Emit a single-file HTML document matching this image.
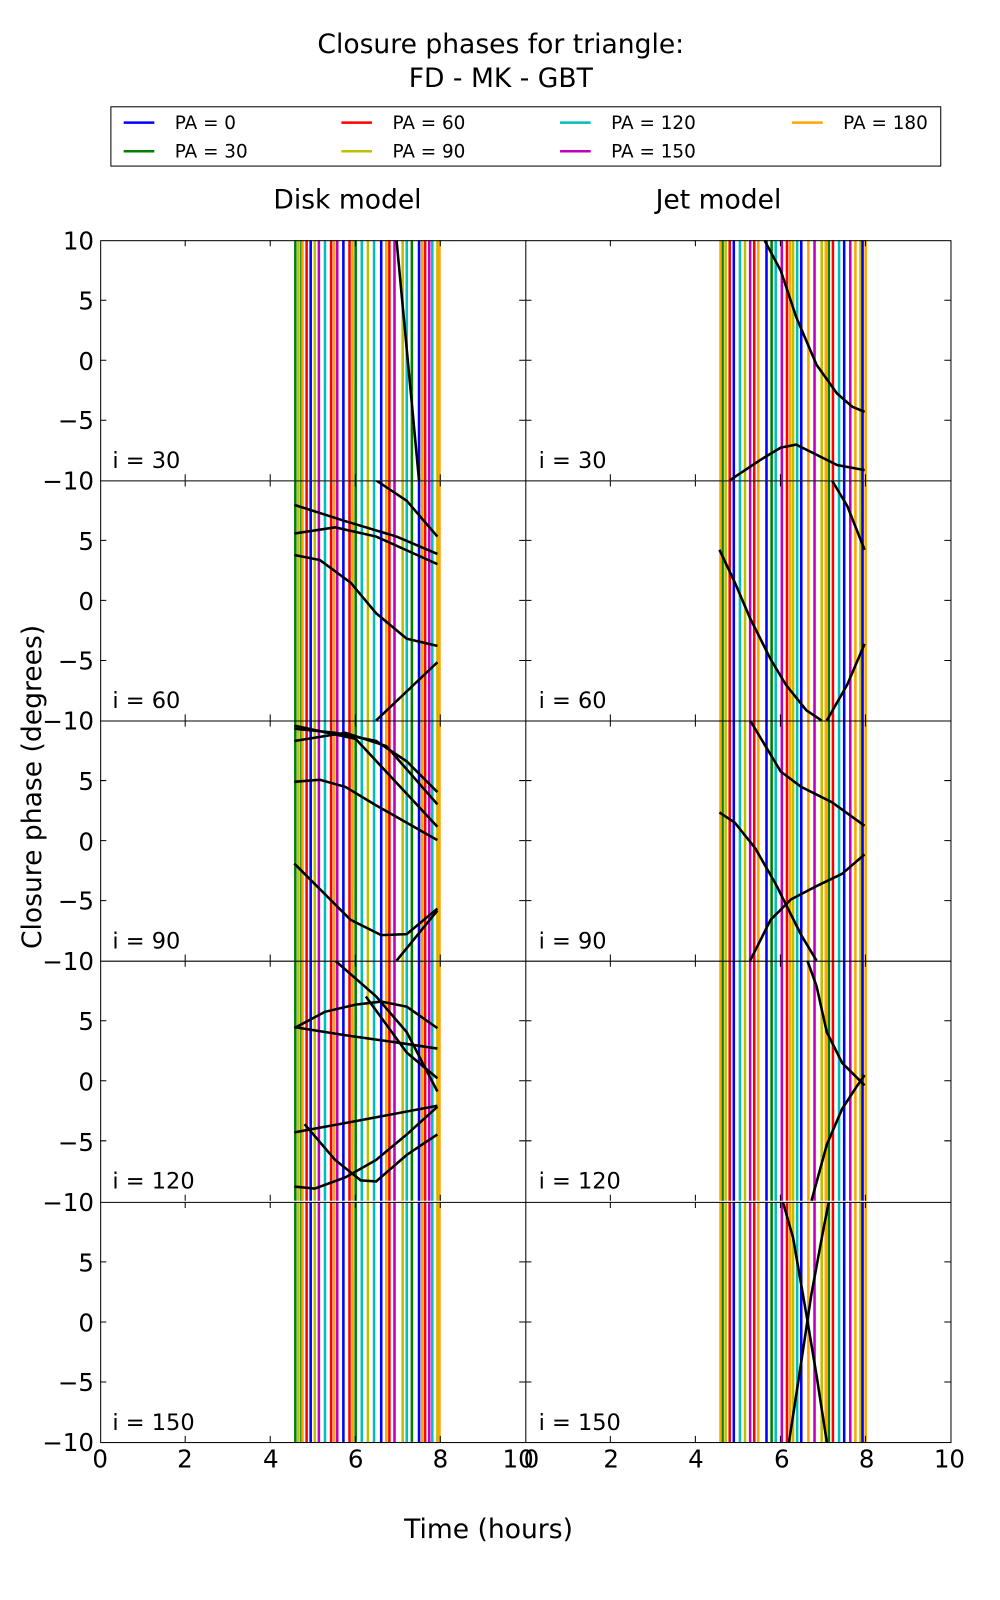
<!DOCTYPE html>
<html><head><meta charset="utf-8"><style>
html,body{margin:0;padding:0;background:#fff;}
svg{display:block;font-family:"DejaVu Sans","Liberation Sans",sans-serif;}
</style></head><body>
<svg width="1000" height="1600" viewBox="0 0 1000 1600" xmlns="http://www.w3.org/2000/svg">
<rect width="1000" height="1600" fill="#fff"/>
<defs>
<clipPath id="cl"><rect x="0" y="0" width="416" height="235"/></clipPath>
<g id="vl" stroke-width="2.5" fill="none">
<path stroke="#008000" d="M191 0v235M197 0v235M250 0v235M305 0v235"/>
<path stroke="#bfbf00" d="M194 0v235M210 0v235M262 0v235M296 0v235M330 0v235"/>
<path stroke="#ff0000" d="M202 0v235M226 0v235M244 0v235M283 0v235M318 0v235"/>
<path stroke="#0000ff" d="M206 0v235M238 0v235M275 0v235M312 0v235"/>
<path stroke="#00bfbf" d="M220 0v235M256 0v235M268 0v235M300 0v235M325 0v235"/>
<path stroke="#bf00bf" d="M214 0v235M232 0v235M288 0v235M322 0v235"/>
<path stroke="#ffa500" d="M198 0v235M229 0v235M247 0v235M280 0v235M315 0v235M332 0v235"/>
</g>
<g id="vr" stroke-width="2.5" fill="none">
<path stroke="#008000" d="M193 0v235M241 0v235M297 0v235"/>
<path stroke="#bfbf00" d="M196 0v235M215 0v235M262 0v235M290 0v235M328 0v235"/>
<path stroke="#ff0000" d="M200 0v235M224 0v235M256 0v235M301 0v235"/>
<path stroke="#0000ff" d="M204 0v235M236 0v235M270 0v235M312 0v235M330 0v235"/>
<path stroke="#00bfbf" d="M210 0v235M245 0v235M266 0v235M307 0v235"/>
<path stroke="#bf00bf" d="M220 0v235M251 0v235M283 0v235M318 0v235"/>
<path stroke="#ffa500" d="M191 0v235M228 0v235M259 0v235M277 0v235M294 0v235M323 0v235M333 0v235"/>
</g>
<g id="ax" fill="none" stroke="#000" stroke-width="1">
<path d="M83.2 235v-6M166.4 235v-6M249.6 235v-6M332.8 235v-6M83.2 0v6M166.4 0v6M249.6 0v6M332.8 0v6M0 58.75h6M0 117.5h6M0 176.25h6M416 58.75h-6M416 117.5h-6M416 176.25h-6"/>
</g>
</defs>
<g transform="scale(1.022)">
<text x="490" y="52" font-size="26" text-anchor="middle">Closure phases for triangle:</text>
<text x="490" y="85" font-size="26" text-anchor="middle">FD - MK - GBT</text>
<rect x="108.5" y="104.5" width="812" height="58" fill="#fff" stroke="#000" stroke-width="1"/>
<g font-size="18" stroke-width="2.5">
<line x1="121" y1="120" x2="151" y2="120" stroke="#0000ff"/><text x="171" y="126">PA = 0</text>
<line x1="121" y1="148" x2="151" y2="148" stroke="#008000"/><text x="171" y="154">PA = 30</text>
<line x1="334" y1="120" x2="364" y2="120" stroke="#ff0000"/><text x="384" y="126">PA = 60</text>
<line x1="334" y1="148" x2="364" y2="148" stroke="#bfbf00"/><text x="384" y="154">PA = 90</text>
<line x1="548" y1="120" x2="578" y2="120" stroke="#00bfbf"/><text x="598" y="126">PA = 120</text>
<line x1="548" y1="148" x2="578" y2="148" stroke="#bf00bf"/><text x="598" y="154">PA = 150</text>
<line x1="775" y1="120" x2="805" y2="120" stroke="#ffa500"/><text x="825" y="126">PA = 180</text>
</g>
<text x="340" y="204" font-size="26" text-anchor="middle">Disk model</text>
<text x="703" y="204" font-size="26" text-anchor="middle">Jet model</text>
<g stroke="#000" stroke-width="2.5" fill="none">
<g transform="translate(98,235)" clip-path="url(#cl)"><use href="#vl"/><path d="M290 0L312 235"/><use href="#ax"/></g>
<g transform="translate(98,470)" clip-path="url(#cl)"><use href="#vl"/>
<path d="M190 24L240 40L290 55L330 72"/><path d="M190 52L230 46L270 55L330 82"/><path d="M190 73L215 78L245 100L270 130L300 155L330 162"/><path d="M270 235L330 178"/><path d="M270 0L300 20L330 55"/><use href="#ax"/></g>
<g transform="translate(98,705)" clip-path="url(#cl)"><use href="#vl"/>
<path d="M190 8L230 12L270 20L300 40L330 70"/><path d="M190 20L240 12L280 25L330 82"/><path d="M190 60L215 58L240 65L270 83L300 100L330 117"/><path d="M190 140L215 165L245 195L275 210L300 209L330 184"/><path d="M290 235L330 186"/><path d="M190 5L250 18L330 104"/><use href="#ax"/></g>
<g transform="translate(98,940)" clip-path="url(#cl)"><use href="#vl"/>
<path d="M190 66L220 50L250 43L275 40L300 45L330 66"/><path d="M190 65L240 73L290 80L330 86"/><path d="M190 168L250 157L330 142"/><path d="M190 221L210 223L240 212L270 195L300 170L330 143"/><path d="M200 160L230 195L255 215L270 216L300 190L330 170"/><path d="M230 0L270 35L300 70L330 128"/><path d="M260 35L300 90L330 115"/><use href="#ax"/></g>
<g transform="translate(98,1176)" clip-path="url(#cl)"><use href="#vl"/><use href="#ax"/></g>
<g transform="translate(514,235)" clip-path="url(#cl)"><use href="#vr"/>
<path d="M234 0L250 30L265 75L285 122L305 150L320 163L332 168"/><path d="M200 235L230 215L250 203L265 200L285 210L305 220L332 225"/><use href="#ax"/></g>
<g transform="translate(514,470)" clip-path="url(#cl)"><use href="#vr"/>
<path d="M190 68L205 100L220 135L240 175L255 200L275 225L290 235"/><path d="M300 0L315 25L332 68"/><path d="M295 235L315 200L332 160"/><use href="#ax"/></g>
<g transform="translate(514,705)" clip-path="url(#cl)"><use href="#vr"/>
<path d="M190 90L205 100L225 125L245 160L270 210L285 235"/><path d="M220 235L240 195L260 175L285 162L310 150L332 131"/><path d="M220 0L235 25L250 50L270 65L300 80L332 103"/><use href="#ax"/></g>
<g transform="translate(514,940)" clip-path="url(#cl)"><use href="#vr"/>
<path d="M276 0L285 25L295 70L310 100L325 115L332 122"/><path d="M280 235L295 180L310 145L325 122L332 112"/><use href="#ax"/></g>
<g transform="translate(514,1176)" clip-path="url(#cl)"><use href="#vr"/>
<path d="M252 0L262 35L275 110L285 170L295 235"/><path d="M258 235L268 170L280 90L292 25L297 0"/><use href="#ax"/></g>
</g>
<g fill="none" stroke="#000" stroke-width="1">
<rect x="98.5" y="235.5" width="832" height="1176"/>
<path d="M514.5 235v1176M98 470.5h833M98 705.5h833M98 940.5h833M98 1176.5h833"/>
</g>
<g font-size="24" text-anchor="end">
<text x="92" y="244">10</text><text x="92" y="303">5</text><text x="92" y="362">0</text><text x="92" y="420">−5</text>
<text x="92" y="479">−10</text><text x="92" y="538">5</text><text x="92" y="597">0</text><text x="92" y="655">−5</text>
<text x="92" y="714">−10</text><text x="92" y="773">5</text><text x="92" y="832">0</text><text x="92" y="890">−5</text>
<text x="92" y="949">−10</text><text x="92" y="1008">5</text><text x="92" y="1067">0</text><text x="92" y="1126">−5</text>
<text x="92" y="1185">−10</text><text x="92" y="1244">5</text><text x="92" y="1303">0</text><text x="92" y="1361">−5</text>
<text x="92" y="1420">−10</text>
</g>
<g font-size="24" text-anchor="middle">
<text x="98" y="1436">0</text><text x="181" y="1436">2</text><text x="265" y="1436">4</text><text x="348" y="1436">6</text><text x="431" y="1436">8</text><text x="507" y="1436">10</text>
<text x="520" y="1436">0</text><text x="598" y="1436">2</text><text x="681" y="1436">4</text><text x="765" y="1436">6</text><text x="848" y="1436">8</text><text x="929" y="1436">10</text>
</g>
<g font-size="22">
<text x="110" y="458">i = 30</text><text x="527" y="458">i = 30</text>
<text x="110" y="693">i = 60</text><text x="527" y="693">i = 60</text>
<text x="110" y="928">i = 90</text><text x="527" y="928">i = 90</text>
<text x="110" y="1163">i = 120</text><text x="527" y="1163">i = 120</text>
<text x="110" y="1399">i = 150</text><text x="527" y="1399">i = 150</text>
</g>
<text x="478" y="1505" font-size="26" text-anchor="middle">Time (hours)</text>
<text transform="translate(40,770) rotate(-90)" font-size="26" text-anchor="middle">Closure phase (degrees)</text>
</g>
</svg>
</body></html>
